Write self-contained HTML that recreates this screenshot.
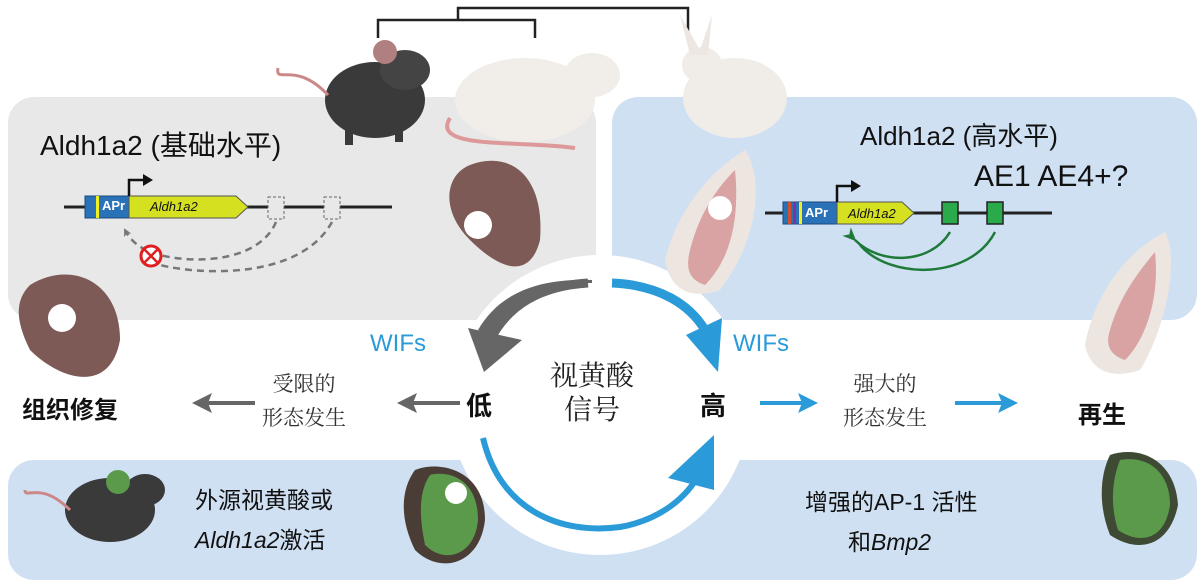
<!DOCTYPE html>
<html><head><meta charset="utf-8"><style>
body{margin:0;width:1200px;height:587px;background:#fff;overflow:hidden;position:relative;font-family:"Liberation Sans","Noto Sans CJK SC",sans-serif}
.t{position:absolute;white-space:nowrap}
.s{font-family:"Liberation Serif","Noto Serif CJK SC",serif;color:#333}
</style></head><body>
<svg width="1200" height="587" style="position:absolute;left:0;top:0">
<defs>
<marker id="gh" markerWidth="8" markerHeight="8" refX="6" refY="4" orient="auto" markerUnits="userSpaceOnUse"><path d="M0,0 L8,4 L0,8 L2,4z" fill="#777"/></marker>
<marker id="grn" markerWidth="14" markerHeight="12" refX="2" refY="6" orient="auto" markerUnits="userSpaceOnUse"><path d="M14,0 L0,6 L14,12 L10,6z" fill="#1f7a3a"/></marker>
</defs>
<rect x="8" y="97" width="588" height="223" rx="26" fill="#e8e8e8"/>
<rect x="612" y="97" width="585" height="223" rx="26" fill="#d0e0f3"/>
<rect x="8" y="460" width="1189" height="120" rx="26" fill="#d0e0f3"/>
<circle cx="600" cy="405" r="150" fill="#fff"/>
<rect x="596" y="97" width="16" height="200" fill="#fff"/>
<path d="M378,38 V20 H535 V38 M458,20 V8 H688 V38" stroke="#222" stroke-width="2.5" fill="none"/>
<!-- mouse -->
<ellipse cx="375" cy="100" rx="50" ry="38" fill="#3a3a3a"/>
<ellipse cx="405" cy="70" rx="25" ry="20" fill="#444"/>
<circle cx="385" cy="52" r="12" fill="#b08080"/>
<rect x="345" y="125" width="8" height="20" fill="#3a3a3a"/><rect x="395" y="120" width="8" height="22" fill="#3a3a3a"/>
<path d="M328,95 C295,60 275,85 278,68" stroke="#c88" stroke-width="3" fill="none"/>
<!-- rat -->
<ellipse cx="525" cy="100" rx="70" ry="42" fill="#f1eeea"/>
<ellipse cx="592" cy="75" rx="28" ry="22" fill="#f1eeea"/>
<path d="M450,118 C430,150 520,140 575,148" stroke="#d99" stroke-width="4" fill="none"/>
<!-- rabbit -->
<ellipse cx="735" cy="98" rx="52" ry="40" fill="#f0ece8"/>
<ellipse cx="702" cy="65" rx="20" ry="18" fill="#f0ece8"/>
<path d="M690,55 L680,15 L700,50 L712,15 L708,55z" fill="#eee6e2"/>
<!-- ears -->
<path d="M470,165 C510,150 545,175 540,240 C530,280 500,270 470,240 C440,210 445,175 470,165z" fill="#7d5a55"/>
<circle cx="478" cy="225" r="14" fill="#fff"/>
<path d="M30,285 C70,260 120,280 120,340 C110,395 60,380 30,350 C15,320 15,300 30,285z" fill="#7d5a55"/>
<circle cx="62" cy="318" r="14" fill="#fff"/>
<path d="M745,150 C760,170 765,230 720,290 C690,300 670,290 665,260 C680,200 720,165 745,150z" fill="#ede6e0"/>
<path d="M735,170 C740,220 730,260 705,285 C690,280 685,270 690,250 C700,210 720,185 735,170z" fill="#d9a3a3"/>
<circle cx="720" cy="208" r="12" fill="#fff"/>
<path d="M1165,232 C1180,260 1165,330 1140,370 C1110,380 1090,370 1085,345 C1095,290 1130,250 1165,232z" fill="#ede6e0"/>
<path d="M1155,252 C1160,300 1145,340 1125,360 C1110,355 1105,345 1110,330 C1120,295 1140,270 1155,252z" fill="#d9a3a3"/>
<path d="M415,470 C440,460 485,470 485,520 C480,565 440,575 415,550 C400,520 400,490 415,470z" fill="#4a3d35"/>
<path d="M430,475 C450,470 478,480 478,520 C475,555 445,565 425,545 C418,510 420,490 430,475z" fill="#5a9a4a"/>
<circle cx="456" cy="493" r="11" fill="#fff"/>
<path d="M1110,455 C1140,445 1175,460 1178,505 C1170,545 1140,555 1110,535 C1098,505 1100,475 1110,455z" fill="#3f4a35"/>
<path d="M1120,460 C1145,455 1170,470 1170,505 C1165,540 1140,545 1118,530 C1110,505 1112,480 1120,460z" fill="#5a9a4a"/>
<!-- green mouse -->
<ellipse cx="110" cy="510" rx="45" ry="32" fill="#3a3a3a"/>
<ellipse cx="145" cy="490" rx="20" ry="16" fill="#3a3a3a"/>
<circle cx="118" cy="482" r="12" fill="#5a9a4a"/>
<path d="M70,510 C40,480 25,500 25,490" stroke="#c88" stroke-width="3" fill="none"/>
<!-- left gene -->
<line x1="64" y1="207" x2="392" y2="207" stroke="#222" stroke-width="3"/>
<rect x="85" y="196" width="44" height="22" fill="#2a72b8" stroke="#1a4a7a"/>
<rect x="96" y="196" width="3" height="22" fill="#f0f020"/>
<path d="M129,196 H236 L248,207 L236,218 H129z" fill="#d4e020" stroke="#555"/>
<path d="M129,196 V180 H145" stroke="#111" stroke-width="2.5" fill="none"/><path d="M143,174 L153,180 L143,186z" fill="#111"/>
<rect x="268" y="197" width="16" height="22" fill="#e8e8e8" stroke="#666" stroke-dasharray="3,2"/>
<rect x="324" y="197" width="16" height="22" fill="#e8e8e8" stroke="#666" stroke-dasharray="3,2"/>
<path d="M276,222 C260,260 200,265 160,255 C140,250 130,240 125,230" stroke="#777" stroke-width="2.5" stroke-dasharray="7,5" fill="none" marker-end="url(#gh)"/>
<path d="M332,222 C300,280 200,275 160,265" stroke="#777" stroke-width="2.5" stroke-dasharray="7,5" fill="none"/>
<circle cx="151" cy="256" r="10" fill="#fff" stroke="#e02020" stroke-width="3"/>
<path d="M144,249 L158,263 M158,249 L144,263" stroke="#e02020" stroke-width="2.5"/>
<!-- right gene -->
<line x1="765" y1="213" x2="1052" y2="213" stroke="#222" stroke-width="3"/>
<rect x="783" y="202" width="54" height="22" fill="#2a72b8" stroke="#1a4a7a"/>
<rect x="788" y="202" width="3" height="22" fill="#d05030"/><rect x="793" y="202" width="3" height="22" fill="#8030a0"/><rect x="799" y="202" width="3" height="22" fill="#f0f020"/>
<path d="M837,202 H902 L914,213 L902,224 H837z" fill="#d4e020" stroke="#555"/>
<path d="M837,202 V186 H853" stroke="#111" stroke-width="2.5" fill="none"/><path d="M851,180 L861,186 L851,192z" fill="#111"/>
<rect x="942" y="202" width="16" height="22" fill="#2aaa4a" stroke="#222" stroke-width="1.5"/>
<rect x="987" y="202" width="16" height="22" fill="#2aaa4a" stroke="#222" stroke-width="1.5"/>
<path d="M950,232 C930,265 880,265 855,240" stroke="#1f7a3a" stroke-width="2.5" fill="none" marker-end="url(#grn)"/>
<path d="M995,232 C970,280 890,280 860,245" stroke="#1f7a3a" stroke-width="2.5" fill="none"/>
<!-- big arrows -->
<path d="M592,283 C545,282 510,300 490,335 L478,330 C500,292 540,278 592,280z" fill="#666"/>
<path d="M588,283 C540,286 508,305 490,340" stroke="#666" stroke-width="9" fill="none"/>
<path d="M468,328 L484,372 L522,340z" fill="#666"/>
<path d="M612,283 C660,285 690,305 705,330" stroke="#2a9ad8" stroke-width="9" fill="none"/>
<path d="M686,335 L718,372 L722,318z" fill="#2a9ad8"/>
<path d="M483,438 C500,510 560,535 620,527 C660,520 688,497 700,472" stroke="#2a9ad8" stroke-width="6" fill="none"/>
<path d="M668,478 L714,435 L714,490z" fill="#2a9ad8"/>
<!-- small arrows -->
<path d="M255,403 H205" stroke="#666" stroke-width="4"/><path d="M192,403 L212,393 L208,403 L212,413z" fill="#666"/>
<path d="M460,403 H410" stroke="#666" stroke-width="4"/><path d="M397,403 L417,393 L413,403 L417,413z" fill="#666"/>
<path d="M760,403 H805" stroke="#2a9ad8" stroke-width="4"/><path d="M818,403 L798,393 L802,403 L798,413z" fill="#2a9ad8"/>
<path d="M955,403 H1005" stroke="#2a9ad8" stroke-width="4"/><path d="M1018,403 L998,393 L1002,403 L998,413z" fill="#2a9ad8"/>
</svg>
<div class="t" style="left:40px;top:124px;font-size:28px;color:#111">Aldh1a2 (基础水平)</div>
<div class="t" style="left:860px;top:116px;font-size:26px;color:#111">Aldh1a2 (高水平)</div>
<div class="t" style="left:974px;top:160px;font-size:30px;color:#111">AE1 AE4+?</div>
<div class="t" style="left:102px;top:198px;font-size:13px;font-weight:bold;color:#fff">APr</div>
<div class="t" style="left:150px;top:199px;font-size:13px;font-style:italic;color:#111">Aldh1a2</div>
<div class="t" style="left:805px;top:205px;font-size:13px;font-weight:bold;color:#fff">APr</div>
<div class="t" style="left:848px;top:206px;font-size:13px;font-style:italic;color:#111">Aldh1a2</div>
<div class="t" style="left:370px;top:330px;font-size:24px;color:#2a9ad8">WIFs</div>
<div class="t" style="left:733px;top:330px;font-size:24px;color:#2a9ad8">WIFs</div>
<div class="t s" style="left:550px;top:360px;font-size:28px;line-height:34px;text-align:center;color:#222">视黄酸<br>信号</div>
<div class="t" style="left:466px;top:386px;font-size:26px;font-weight:bold;color:#111">低</div>
<div class="t" style="left:700px;top:386px;font-size:26px;font-weight:bold;color:#111">高</div>
<div class="t" style="left:22px;top:390px;font-size:24px;font-weight:bold;color:#111">组织修复</div>
<div class="t" style="left:1078px;top:395px;font-size:24px;font-weight:bold;color:#111">再生</div>
<div class="t s" style="left:262px;top:367px;font-size:21px;line-height:34px;text-align:center">受限的<br>形态发生</div>
<div class="t s" style="left:843px;top:367px;font-size:21px;line-height:34px;text-align:center">强大的<br>形态发生</div>
<div class="t" style="left:195px;top:480px;font-size:23px;line-height:40px;color:#111">外源视黄酸或<br><i>Aldh1a2</i>激活</div>
<div class="t" style="left:805px;top:482px;font-size:23px;line-height:40px;color:#111">增强的AP-1 活性<br><span style="padding-left:43px">和<i>Bmp2</i></span></div>
</body></html>
